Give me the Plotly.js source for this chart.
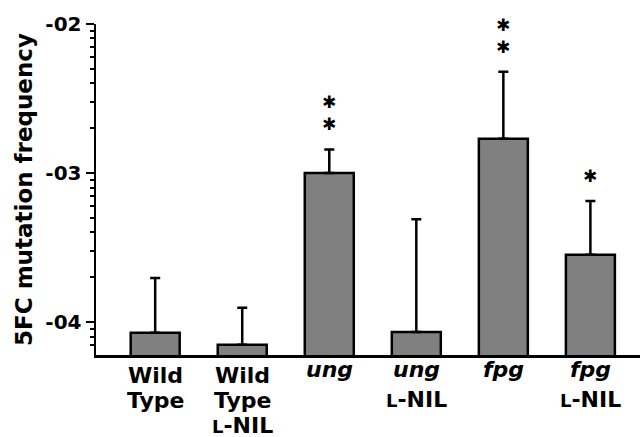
<!DOCTYPE html>
<html>
<head>
<meta charset="utf-8">
<script src="https://cdn.plot.ly/plotly-3.0.1.min.js"></script>
<style>html,body{margin:0;padding:0;background:#fff;}#chart{width:640px;height:437px;}</style>
</head>
<body>
<div id="chart"></div>
<script>
// ---- data ----
const categories = ['Wild Type', 'Wild Type L-NIL', 'ung', 'ung L-NIL', 'fpg', 'fpg L-NIL'];
const labelLines = [['Wild', 'Type'], ['Wild', 'Type', 'L-NIL'], ['ung'], ['ung', 'L-NIL'], ['fpg'], ['fpg', 'L-NIL']];
const italicFirstLine = [false, false, true, true, true, true];
const frequency = [8.5e-5, 7.05e-5, 1.0e-3, 8.6e-5, 1.7e-3, 2.83e-4];
const errorPlus = [1.13e-4, 5.45e-5, 4.4e-4, 4.05e-4, 3.09e-3, 3.67e-4];
const significance = ['', '', '**', '', '**', '*'];
const yTickVals = [1e-4, 1e-3, 1e-2];
const yTickText = ['-04', '-03', '-02'];
const yTitle = '5FC mutation frequency';

// ---- build ----
const FONT = 'DejaVu Sans';
const xIdx = categories.map((c, i) => i);

const minorVals = [];
[1e-5, 1e-4, 1e-3].forEach(d => { for (let k = 2; k <= 9; k++) minorVals.push(k * d); });

function fmtLine(s, italic) {
  let t = s.replace(/^L-/, '<span style="font-size:18px">L</span>-');
  return italic ? '<i>' + t + '</i>' : t;
}

const annotations = [];
labelLines.forEach((lines, i) => {
  const base = italicFirstLine[i] ? [0, -30] : [-6, -31, -56];
  lines.forEach((ln, j) => {
    annotations.push({
      x: i, xref: 'x', y: 0, yref: 'paper', yanchor: 'top', xanchor: 'center',
      yshift: base[j], showarrow: false,
      text: fmtLine(ln, j === 0 && italicFirstLine[i]),
      font: {family: FONT, size: 22, color: '#000', weight: 'bold'}
    });
  });
});

significance.forEach((s, i) => {
  if (!s) return;
  annotations.push({
    x: i, xref: 'x', y: Math.log10(frequency[i] + errorPlus[i]), yref: 'y',
    yanchor: 'bottom', xanchor: 'center', yshift: 13,
    showarrow: false, text: s.split('').map(() => '\u2731').join('<br>'),
    font: {family: FONT, size: 17, color: '#000'}
  });
});

const trace = {
  type: 'bar', x: xIdx, y: frequency,
  marker: {color: '#808080', line: {color: '#000', width: 2.5}},
  error_y: {type: 'data', symmetric: false, array: errorPlus, arrayminus: frequency.map(() => 0),
            color: '#000', thickness: 2.5, width: 5},
  hoverinfo: 'none'
};

const layout = {
  width: 640, height: 437,
  margin: {l: 96, r: 0, t: 24, b: 82, pad: 0},
  paper_bgcolor: '#fff', plot_bgcolor: '#fff',
  showlegend: false, bargap: 0.437,
  xaxis: {range: [-0.68, 5.57], showline: true, linewidth: 2.5, linecolor: '#000',
          showticklabels: false, ticks: '', showgrid: false, zeroline: false, fixedrange: true},
  yaxis: {type: 'log', range: [-4.22, -2], showline: true, linewidth: 2.5, linecolor: '#000',
          ticks: 'outside', ticklen: 8, tickwidth: 2, tickcolor: '#000',
          tickmode: 'array', tickvals: yTickVals, ticktext: yTickText,
          tickfont: {family: FONT, size: 20, color: '#000', weight: 'bold'},
          minor: {tickmode: 'array', tickvals: minorVals, ticks: 'outside', ticklen: 4, tickwidth: 2, tickcolor: '#000', showgrid: false},
          showgrid: false, zeroline: false, fixedrange: true,
          title: {text: yTitle, standoff: 7, font: {family: FONT, size: 23, color: '#000', weight: 'bold'}}},
  annotations: annotations
};

Plotly.newPlot('chart', [trace], layout, {displayModeBar: false, staticPlot: true});
</script>
</body>
</html>
